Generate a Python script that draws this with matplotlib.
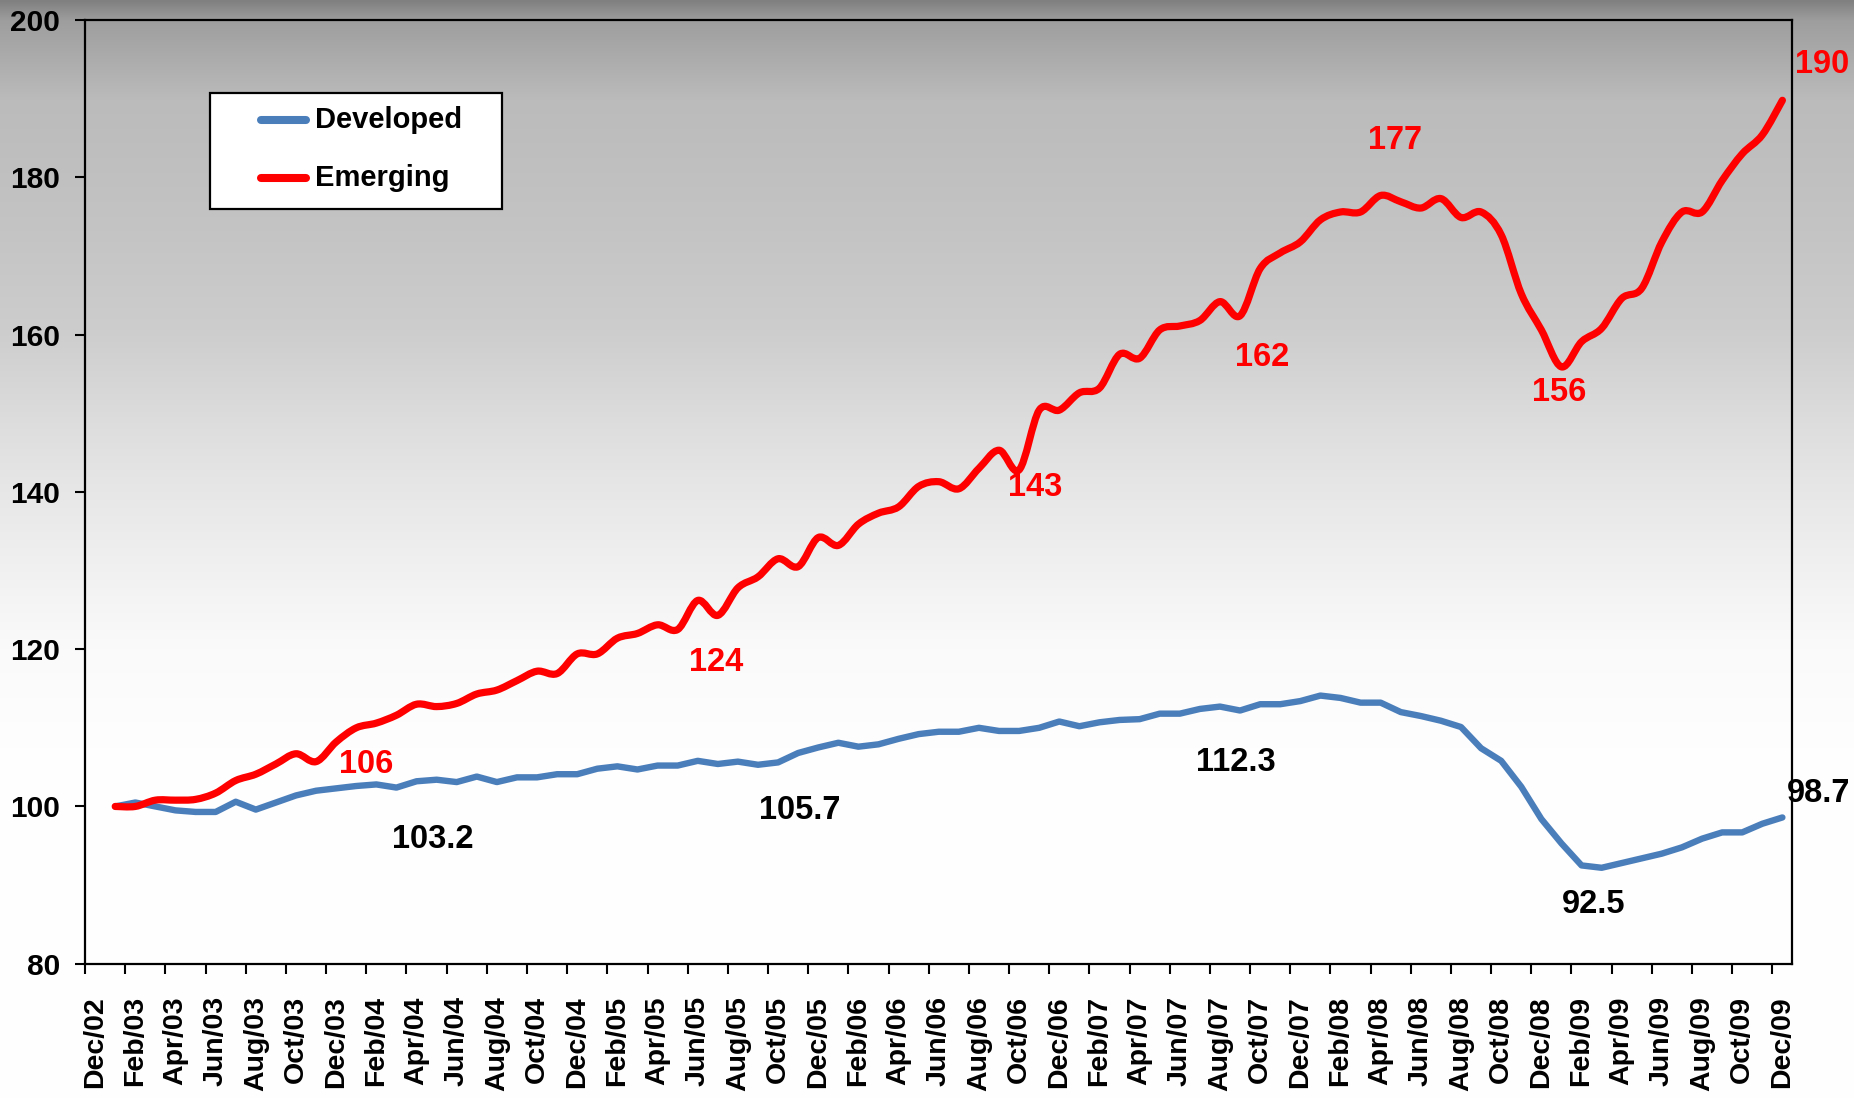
import numpy as np
import matplotlib
matplotlib.use('Agg')
import matplotlib.pyplot as plt
from matplotlib.path import Path
from matplotlib.patches import PathPatch, Rectangle
from matplotlib.lines import Line2D

# tick labels, one every two months (Dec/02 .. Dec/09)
tick_labels = ['Dec/02', 'Feb/03', 'Apr/03', 'Jun/03', 'Aug/03', 'Oct/03', 'Dec/03',
               'Feb/04', 'Apr/04', 'Jun/04', 'Aug/04', 'Oct/04', 'Dec/04',
               'Feb/05', 'Apr/05', 'Jun/05', 'Aug/05', 'Oct/05', 'Dec/05',
               'Feb/06', 'Apr/06', 'Jun/06', 'Aug/06', 'Oct/06', 'Dec/06',
               'Feb/07', 'Apr/07', 'Jun/07', 'Aug/07', 'Oct/07', 'Dec/07',
               'Feb/08', 'Apr/08', 'Jun/08', 'Aug/08', 'Oct/08', 'Dec/08',
               'Feb/09', 'Apr/09', 'Jun/09', 'Aug/09', 'Oct/09', 'Dec/09']

# monthly index values (first value sits in the 2nd category)
developed = [100.0, 100.5, 100.0, 99.5, 99.3, 99.3, 100.6, 99.6, 100.5, 101.4,
             102.0, 102.3, 102.6, 102.8, 102.4, 103.2, 103.4, 103.1, 103.8, 103.1,
             103.7, 103.7, 104.1, 104.1, 104.8, 105.1, 104.7, 105.2, 105.2, 105.8,
             105.4, 105.7, 105.3, 105.6, 106.8, 107.5, 108.1, 107.6, 107.9, 108.6,
             109.2, 109.5, 109.5, 110.0, 109.6, 109.6, 110.0, 110.8, 110.2, 110.7,
             111.0, 111.1, 111.8, 111.8, 112.4, 112.7, 112.2, 113.0, 113.0, 113.4,
             114.1, 113.8, 113.2, 113.2, 112.0, 111.5, 110.9, 110.1, 107.4, 105.8,
             102.5, 98.4, 95.3, 92.5, 92.2, 92.8, 93.4, 94.0, 94.8, 95.9,
             96.7, 96.7, 97.8, 98.6]

emerging = [100.0, 100.0, 100.8, 100.8, 100.9, 101.7, 103.3, 104.1, 105.4, 106.7,
            105.7, 108.2, 110.0, 110.6, 111.6, 113.0, 112.7, 113.1, 114.3, 114.8,
            116.0, 117.2, 116.9, 119.4, 119.4, 121.4, 122.0, 123.1, 122.5, 126.2,
            124.3, 127.8, 129.2, 131.5, 130.5, 134.2, 133.2, 135.9, 137.3, 138.1,
            140.7, 141.3, 140.4, 143.0, 145.3, 142.8, 150.4, 150.4, 152.6, 153.2,
            157.5, 157.0, 160.6, 161.1, 161.8, 164.2, 162.4, 168.4, 170.4, 171.8,
            174.6, 175.6, 175.6, 177.7, 176.9, 176.1, 177.3, 174.9, 175.6, 172.7,
            165.2, 160.6, 155.9, 159.1, 160.8, 164.6, 165.9, 171.8, 175.6, 175.6,
            179.6, 183.0, 185.4, 189.8]

# value labels and where they sit
red_labels = [('106', 13.5, 105.3), ('124', 30.9, 118.3), ('143', 46.8, 140.5),
              ('162', 58.1, 157.1), ('177', 64.7, 184.7), ('156', 72.9, 152.6),
              ('190', 86.0, 194.3)]
black_labels = [('103.2', 16.8, 95.8), ('105.7', 35.1, 99.5), ('112.3', 56.8, 105.6),
                ('92.5', 74.6, 87.5), ('98.7', 85.8, 101.7)]

font = ['Liberation Sans', 'DejaVu Sans']
blue = '#4a7ebb'
red = '#ff0000'

fig = plt.figure(figsize=(18.54, 10.99), dpi=100)

# gray to white background gradient over the whole picture
stops = [0.0, 0.018, 0.09, 0.21, 0.30, 0.39, 0.44, 0.55, 0.59, 0.68, 1.0]
shade = [0x80, 0x9e, 0xbb, 0xc4, 0xcd, 0xde, 0xe6, 0xf5, 0xfa, 0xfe, 0xff]
rows = np.linspace(0, 1, 600)
g = np.interp(rows, stops, shade) / 255.0
grad = np.repeat(g[:, None, None], 3, axis=2)
bg = fig.add_axes([0, 0, 1, 1], zorder=0)
bg.imshow(grad, aspect='auto', extent=[0, 1, 0, 1])
bg.axis('off')

ax = fig.add_axes([0.0459, 0.1231, 0.9209, 0.8586], zorder=1)
ax.set_facecolor('none')

x = np.arange(1, len(developed) + 1)
ax.plot(x, developed, color=blue, lw=4.6, solid_capstyle='round',
        solid_joinstyle='round', zorder=3)

# smoothed red line (Excel style smoothing)
pts = np.column_stack([x, emerging]).astype(float)
n = len(pts)
verts = [pts[0]]
codes = [Path.MOVETO]
for i in range(n - 1):
    p0 = pts[max(i - 1, 0)]
    p1 = pts[i]
    p2 = pts[i + 1]
    p3 = pts[min(i + 2, n - 1)]
    verts += [p1 + (p2 - p0) / 6, p2 - (p3 - p1) / 6, p2]
    codes += [Path.CURVE4] * 3
ax.add_patch(PathPatch(Path(verts, codes), fill=False, edgecolor=red, lw=5.2,
                       capstyle='round', joinstyle='round', zorder=4))

ax.set_xlim(-0.5, 84.5)
ax.set_ylim(80, 200)
ax.set_yticks(range(80, 201, 20))
ax.set_yticklabels([str(v) for v in range(80, 201, 20)], fontsize=21.5,
                   fontweight='bold', family=font)
ax.set_xticks(np.arange(-0.5, 84, 2))
ax.set_xticklabels([])
ax.set_xticks(np.arange(0, 85, 2), minor=True)
ax.set_xticklabels(tick_labels, minor=True, rotation=90, fontsize=20.5,
                   fontweight='bold', family=font)
ax.tick_params(axis='x', which='major', direction='out', length=7, width=1.5)
ax.tick_params(axis='x', which='minor', length=0, pad=23.5)
ax.tick_params(axis='y', direction='out', length=7, width=1.5, pad=11)
for s in ax.spines.values():
    s.set_linewidth(1.6)
    s.set_color('black')

for txt, tx, ty in red_labels:
    ax.text(tx, ty, txt, color=red, fontsize=23.5, fontweight='bold', family=font,
            ha='center', va='center', zorder=5)
for txt, tx, ty in black_labels:
    ax.text(tx, ty, txt, color='black', fontsize=23.5, fontweight='bold', family=font,
            ha='center', va='center', zorder=5)

# legend box
ax.add_patch(Rectangle((0.0734, 0.7995), 0.1705, 0.1236, transform=ax.transAxes,
                       facecolor='white', edgecolor='black', lw=1.6, zorder=6))
for name, col, ly in [('Developed', blue, 0.8941), ('Emerging', red, 0.8323)]:
    ax.add_line(Line2D([0.1030, 0.1294], [ly, ly], transform=ax.transAxes, color=col,
                       lw=5.8, solid_capstyle='round', zorder=7))
    ax.text(0.1344, ly, name, transform=ax.transAxes, fontsize=21, fontweight='bold',
            family=font, ha='left', va='center', zorder=7)

fig.savefig('out.png', dpi=100)
